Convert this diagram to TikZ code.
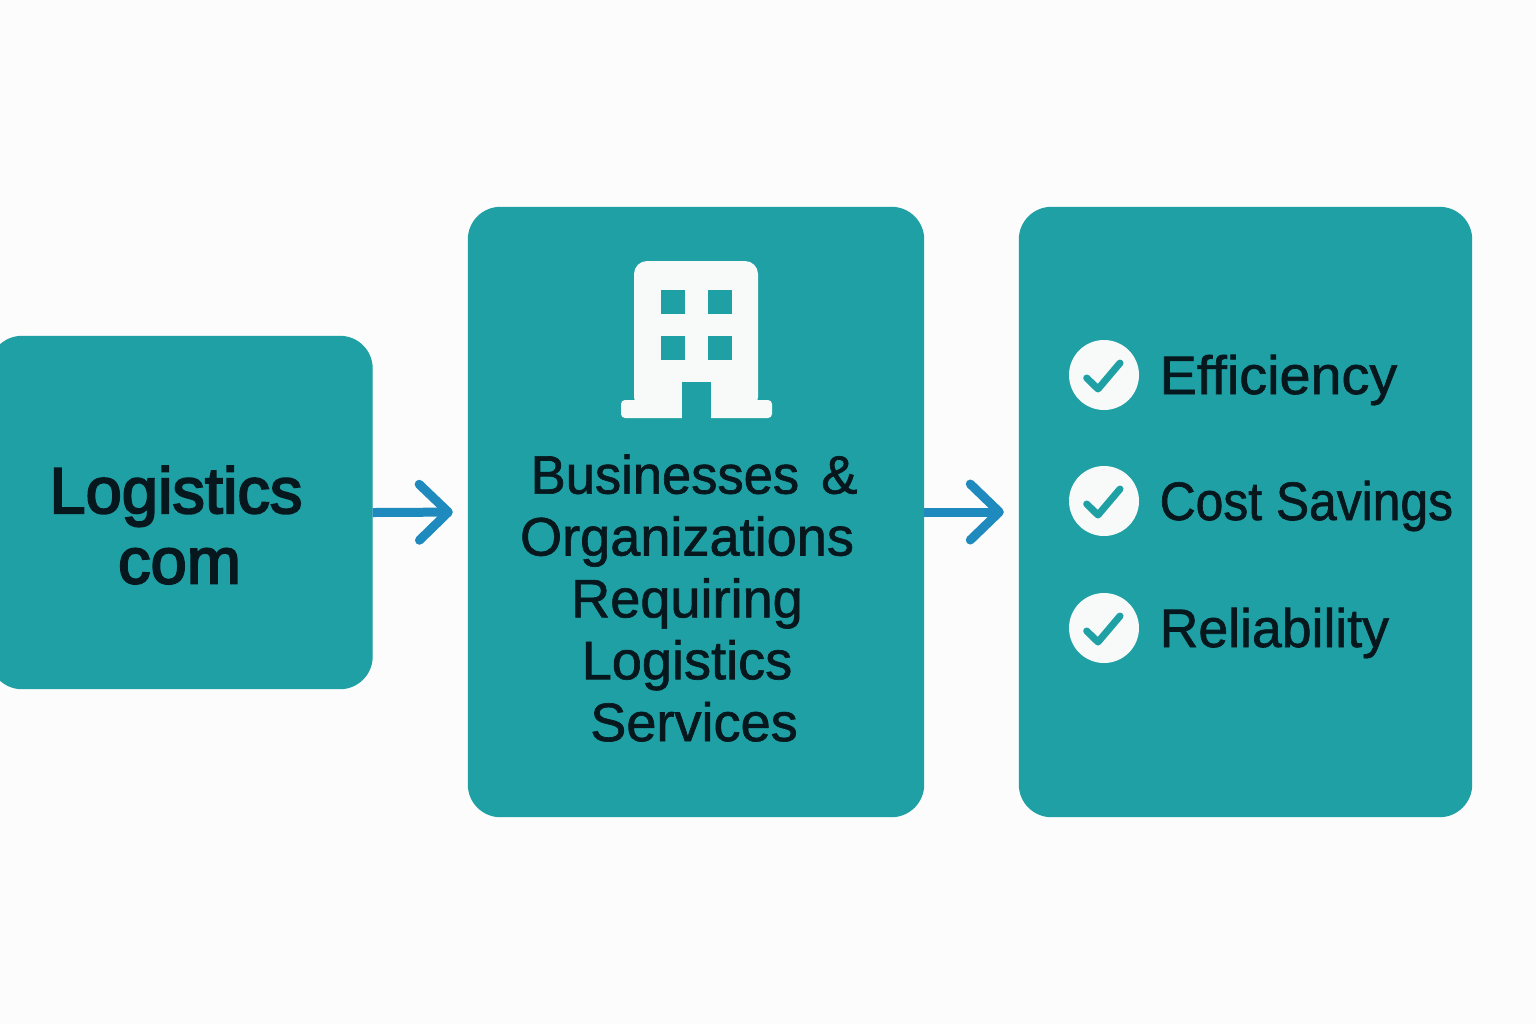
\documentclass[tikz,border=0pt]{standalone}
\usepackage{fontspec}
\setsansfont{Liberation Sans}[FakeBold=1.2]
\newfontfamily\titlefont{Liberation Sans}[FakeBold=3]
\usepackage{xcolor}
\usepackage{tikz}
\usetikzlibrary{arrows.meta,positioning}
\definecolor{lgteal}{HTML}{1FA0A5}
\definecolor{lgblue}{HTML}{1F8ABD}
\definecolor{lgink}{HTML}{06181D}
\definecolor{lgpaper}{HTML}{FCFCFC}
\definecolor{lgwhite}{HTML}{F8F9F9}
\newcommand{\squeeze}[2]{{\addfontfeature{FakeStretch=#1}#2}}

\begin{document}
\begin{tikzpicture}[
  font=\fontsize{15.4pt}{17.6pt}\selectfont\sffamily,
  panel/.style={
    draw=lgteal,
    fill=lgteal,
    rounded corners=3.2mm,
    align=center,
    text=lgink,
    inner sep=0pt
  },
  flow/.style={
    line width=0.9mm,
    draw=lgblue,
    -{Straight Barb[length=2.9mm,width=5.6mm,round]},
    shorten >=1.5mm
  },
  tick/.style={
    circle,
    fill=lgwhite,
    minimum size=7mm,
    inner sep=0pt
  },
  tickmark/.style={
    line width=0.7mm,
    draw=lgteal,
    line cap=round,
    line join=round
  },
  benefit/.style={
    text=lgink,
    inner sep=0pt,
    anchor=west,
    text height=3.9mm,
    text depth=1.1mm
  }
]
\useasboundingbox (0,0) rectangle (15.36,-10.24);
\fill[lgpaper] (0,0) rectangle (15.36,-10.24);

\node[panel,minimum width=3.82cm,minimum height=3.52cm] (provider) at (1.81,-5.125) {};
\node[panel,minimum width=4.55cm,minimum height=6.09cm] (clients) at (6.96,-5.12) {};
\node[panel,minimum width=4.52cm,minimum height=6.09cm] (gains) at (12.455,-5.12) {};

\node[text=lgink,align=center,font=\fontsize{18.5pt}{20pt}\selectfont\titlefont] (providertext) at (1.76,-5.25) {Logistics\\\hspace*{0.7mm}com};
\node[text=lgink,align=center] (clientstext) at (6.87,-5.98) {\hspace*{1.4mm}\squeeze{0.97}{Businesses}\hspace{2.2mm}\&\\Organizations\\Requiring\\Logistics\\\hspace*{1.4mm}Services};

% building icon
\fill[lgwhite,rounded corners=1.3mm] (6.34,-4.1) -- (6.34,-2.61) -- (7.58,-2.61) -- (7.58,-4.1) -- cycle;
\fill[lgwhite,rounded corners=0.4mm] (6.21,-4.0) rectangle (7.72,-4.18);
\fill[lgteal] (6.82,-4.19) rectangle (7.11,-3.82);
\foreach \wx in {6.61,7.08}
  \foreach \wy in {-2.90,-3.36}
    \fill[lgteal] (\wx,\wy) rectangle ++(0.235,-0.235);

\draw[flow] (provider.east) -- (clients.west);
\draw[flow] (clients.east) -- (gains.west);

\node[tick] (tickone) at (11.04,-3.75) {};
\node[tick] (ticktwo) at (11.04,-5.01) {};
\node[tick] (tickthree) at (11.04,-6.28) {};
\foreach \c in {tickone,ticktwo,tickthree}
  \draw[tickmark] ([shift={(-0.173,-0.03)}]\c.center) -- ++(0.113,-0.11) -- ++(0.22,0.26);

\node[benefit] (efficiency) at (11.59,-3.80) {\squeeze{1.03}{Efficiency}};
\node[benefit] (savings) at (11.59,-5.06) {\squeeze{0.92}{Cost Savings}};
\node[benefit] (reliability) at (11.59,-6.33) {\squeeze{0.99}{Reliability}};
\end{tikzpicture}
\end{document}
